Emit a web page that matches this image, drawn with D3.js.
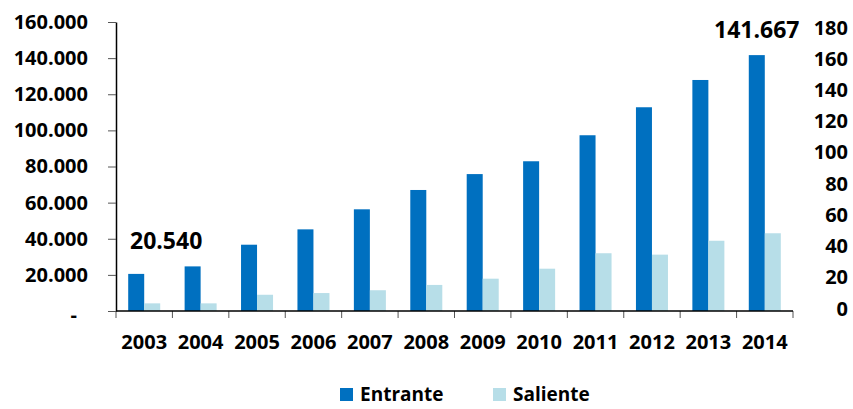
<!DOCTYPE html>
<html>
<head>
<meta charset="utf-8">
<script src="https://cdn.jsdelivr.net/npm/d3@7"></script>
<style>
  body { margin: 0; background: #fff; }
  svg text { font-family: "Open Sans", "DejaVu Sans", sans-serif; font-weight: 700; fill: #000; }
</style>
</head>
<body>
<svg width="853" height="409"></svg>
<script>
var svg = d3.select("svg"),
    width = +svg.attr("width"),
    height = +svg.attr("height");

// data
var years = ["2003", "2004", "2005", "2006", "2007", "2008", "2009", "2010", "2011", "2012", "2013", "2014"];
var entrante = [20540, 24700, 36700, 45200, 56300, 67000, 75800, 82900, 97300, 112800, 127900, 141667];
var saliente = [4.9, 4.9, 10.4, 11.5, 13.3, 16.7, 20.7, 27.1, 37.0, 36.1, 45.0, 49.8];
var leftTicks = [0, 20000, 40000, 60000, 80000, 100000, 120000, 140000, 160000];
var rightTicks = [0, 20, 40, 60, 80, 100, 120, 140, 160, 180];
var seriesNames = ["Entrante", "Saliente"];
var colors = ["#0070C0", "#B7DEE8"];

var plot = { left: 116, right: 793, top: 22, bottom: 311 };

var x = d3.scaleBand()
    .domain(years)
    .range([plot.left, plot.right]);

// two bars in each year, Excel-like gap
var xSub = d3.scaleBand()
    .domain(seriesNames)
    .range([0, x.bandwidth()])
    .paddingOuter(0.7625);

var yL = d3.scaleLinear().domain([0, 160000]).range([plot.bottom, plot.top]);
var yR = d3.scaleLinear().domain([0, 180]).range([plot.bottom, 30]);

var fmt = d3.formatLocale({ decimal: ",", thousands: ".", grouping: [3], currency: ["", ""] }).format(",d");

// bars
var rows = years.map(function(y, i) { return { year: y, ent: entrante[i], sal: saliente[i] }; });

var g = svg.append("g");
g.selectAll("rect.ent")
  .data(rows)
  .enter().append("rect")
    .attr("class", "ent")
    .attr("x", function(d) { return x(d.year) + xSub("Entrante"); })
    .attr("width", xSub.bandwidth())
    .attr("y", function(d) { return yL(d.ent); })
    .attr("height", function(d) { return yL(0) - yL(d.ent); })
    .attr("fill", colors[0]);

g.selectAll("rect.sal")
  .data(rows)
  .enter().append("rect")
    .attr("class", "sal")
    .attr("x", function(d) { return x(d.year) + xSub("Saliente"); })
    .attr("width", xSub.bandwidth())
    .attr("y", function(d) { return yR(d.sal); })
    .attr("height", function(d) { return yR(0) - yR(d.sal); })
    .attr("fill", colors[1]);

// left axis
var leftAxis = svg.append("g")
    .attr("transform", "translate(" + plot.left + ",0)")
    .call(d3.axisLeft(yL)
        .tickValues(leftTicks)
        .tickSize(8)
        .tickSizeOuter(0)
        .tickPadding(20)
        .tickFormat(function(d) { return d === 0 ? "-" : fmt(d); }));
leftAxis.select(".domain").attr("stroke", "#000").attr("stroke-width", 1.5);
leftAxis.selectAll(".tick line").attr("stroke", "#555");
leftAxis.selectAll("text").style("font-size", "20px");
leftAxis.selectAll(".tick").filter(function(d) { return d === 0; })
    .select("text").attr("dx", -11).attr("dy", "0.5em");

// right axis, labels only
var rightAxis = svg.append("g")
    .attr("transform", "translate(" + plot.right + ",0)")
    .call(d3.axisRight(yR).tickValues(rightTicks).tickSize(0));
rightAxis.select(".domain").remove();
rightAxis.selectAll("text")
    .attr("x", 55)
    .attr("dy", "0.2em")
    .attr("text-anchor", "end")
    .style("font-size", "20px");

// x axis
var xAxis = svg.append("g")
    .attr("transform", "translate(0," + plot.bottom + ")")
    .call(d3.axisBottom(x).tickSize(0).tickPadding(24));
xAxis.select(".domain").remove();
xAxis.selectAll("text").style("font-size", "20px");

var edges = years.map(function(y) { return x(y); }).concat([x.range()[1]]);
svg.append("g").selectAll("line")
  .data(edges)
  .enter().append("line")
    .attr("x1", function(d) { return d; })
    .attr("x2", function(d) { return d; })
    .attr("y1", plot.bottom)
    .attr("y2", plot.bottom + 7)
    .attr("stroke", "#555");
svg.append("line")
    .attr("x1", plot.left).attr("x2", plot.right)
    .attr("y1", plot.bottom).attr("y2", plot.bottom)
    .attr("stroke", "#000").attr("stroke-width", 1.5);

// value labels on first and last year
svg.append("text")
    .attr("x", x(years[0]) + 14)
    .attr("y", 249)
    .style("font-size", "23px")
    .text(fmt(entrante[0]));

var last = years.length - 1;
svg.append("text")
    .attr("x", x(years[last]) + xSub("Entrante") + xSub.bandwidth() / 2)
    .attr("y", yL(entrante[last]) - 17)
    .attr("text-anchor", "middle")
    .style("font-size", "23px")
    .text(fmt(entrante[last]));

// legend
var legend = svg.append("g").selectAll("g")
  .data(seriesNames)
  .enter().append("g")
    .attr("transform", function(d, i) { return "translate(" + (340 + i * 153) + ",388)"; });
legend.append("rect")
    .attr("width", 13).attr("height", 13)
    .attr("fill", function(d, i) { return colors[i]; });
legend.append("text")
    .attr("x", 20)
    .attr("y", 13)
    .style("font-size", "19px")
    .text(function(d) { return d; });
</script>
</body>
</html>
